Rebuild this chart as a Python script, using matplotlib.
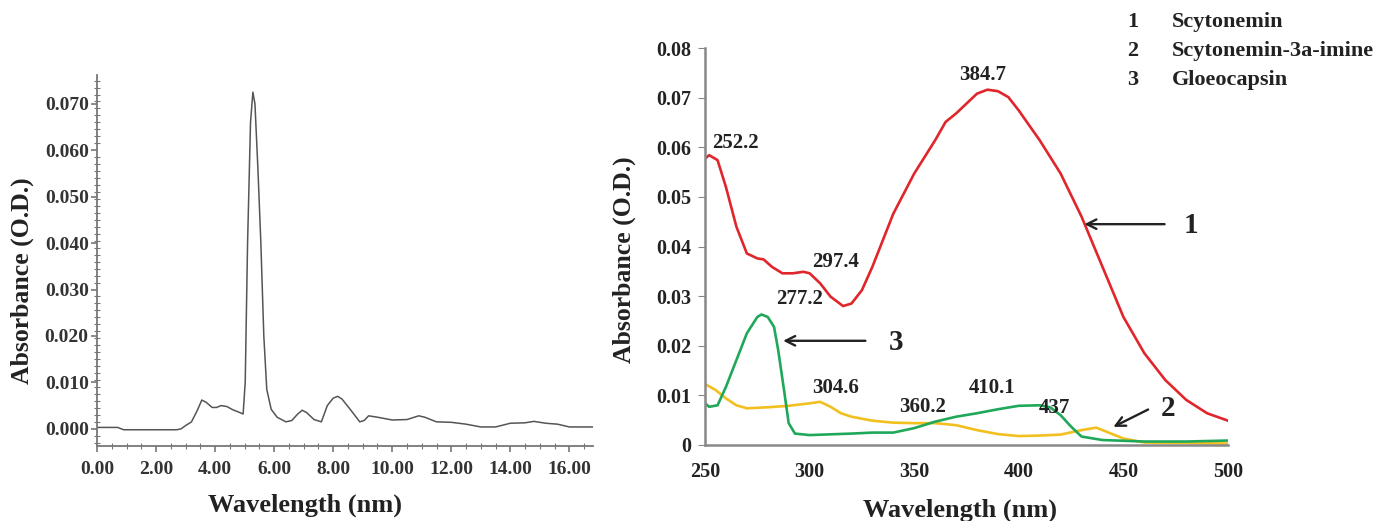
import matplotlib
matplotlib.use("Agg")
import matplotlib.pyplot as plt
from matplotlib.ticker import MultipleLocator, FuncFormatter

plt.rcParams['font.family'] = ['Liberation Serif', 'DejaVu Serif']
plt.rcParams['font.weight'] = 'bold'

# ---- Left panel: chromatogram ----
left_x = [0.0, 0.7, 0.9, 2.7, 2.85, 3.0, 3.2, 3.4, 3.55, 3.7, 3.9, 4.05, 4.2, 4.4, 4.6, 4.8, 4.95,
          5.02, 5.1, 5.2, 5.28, 5.35, 5.45, 5.55, 5.65, 5.75, 5.9, 6.1, 6.4, 6.6, 6.8, 6.95, 7.1,
          7.35, 7.6, 7.8, 8.0, 8.15, 8.3, 8.6, 8.9, 9.05, 9.2, 9.5, 10.0, 10.5, 10.9, 11.1, 11.5,
          12.0, 12.5, 13.0, 13.5, 14.0, 14.5, 14.8, 15.2, 15.6, 16.0, 16.8]
left_y = [0.0003, 0.0003, -0.0002, -0.0002, 0.0000, 0.0007, 0.0015, 0.0040, 0.0062, 0.0057, 0.0046,
          0.0046, 0.0050, 0.0048, 0.0041, 0.0036, 0.0032,
          0.0100, 0.0400, 0.0660, 0.0725, 0.0700, 0.0560, 0.0400, 0.0200, 0.0085, 0.0042, 0.0025,
          0.0015, 0.0018, 0.0032, 0.0040, 0.0035,
          0.0020, 0.0015, 0.0050, 0.0066, 0.0070, 0.0064, 0.0040, 0.0015, 0.0018, 0.0028, 0.0025,
          0.0019, 0.0020, 0.0028, 0.0025, 0.0015,
          0.0014, 0.0010, 0.0004, 0.0004, 0.0012, 0.0013, 0.0016, 0.0012, 0.0010, 0.0004, 0.0004]
left_xticks = [0, 2, 4, 6, 8, 10, 12, 14, 16]
left_yticks = [0.0, 0.01, 0.02, 0.03, 0.04, 0.05, 0.06, 0.07]

# ---- Right panel: absorption spectra ----
scy_x = [250, 252, 256, 260, 265, 270, 275, 278, 282, 287, 292, 297, 300, 305, 310, 316, 320, 325,
         330, 340, 350, 360, 365, 370, 375, 380, 385, 390, 395, 400, 410, 420, 430, 440, 450, 460,
         470, 480, 490, 500]
scy_y = [0.0577, 0.0584, 0.0574, 0.0520, 0.0440, 0.0386, 0.0376, 0.0374, 0.0359, 0.0346, 0.0346,
         0.0349, 0.0346, 0.0326, 0.0299, 0.0280, 0.0285, 0.0312,
         0.0359, 0.0466, 0.0547, 0.0614, 0.0651, 0.0668, 0.0688, 0.0708, 0.0716, 0.0713, 0.0701,
         0.0674, 0.0614, 0.0547, 0.0460, 0.0359, 0.0258, 0.0185, 0.0131, 0.0091, 0.0064, 0.0049]

glo_x = [250, 252, 256, 260, 265, 270, 275, 277, 280, 283, 285, 288, 290, 293, 300, 320, 330, 340,
         350, 360, 370, 380, 390, 400, 410, 415, 420, 425, 430, 440, 460, 480, 500]
glo_y = [0.0084, 0.0077, 0.0080, 0.0117, 0.0171, 0.0225, 0.0258, 0.0263, 0.0258, 0.0238, 0.0191,
         0.0104, 0.0044, 0.0023, 0.0020, 0.0023, 0.0025, 0.0025,
         0.0034, 0.0047, 0.0057, 0.0064, 0.0072, 0.0079, 0.0080, 0.0076, 0.0060, 0.0037, 0.0017,
         0.0010, 0.0007, 0.0007, 0.0009]

imi_x = [250, 255, 260, 265, 270, 280, 290, 300, 305, 310, 315, 320, 330, 340, 350, 360, 370, 380,
         390, 400, 410, 420, 430, 437, 440, 450, 460, 480, 500]
imi_y = [0.0123, 0.0111, 0.0094, 0.0080, 0.0074, 0.0076, 0.0079, 0.0084, 0.0087, 0.0077, 0.0064,
         0.0057, 0.0049, 0.0045, 0.0044, 0.0044, 0.0040, 0.0030,
         0.0022, 0.0018, 0.0019, 0.0021, 0.0030, 0.0035, 0.0030, 0.0013, 0.0005, 0.0004, 0.0003]

peak_labels = ["252.2", "384.7", "297.4", "277.2", "304.6", "360.2", "410.1", "437"]
peak_lx = [264.5, 382.5, 312.5, 295.0, 312.5, 354.0, 387.0, 417.0]
peak_ly = [0.0609, 0.0745, 0.0369, 0.0295, 0.0114, 0.0076, 0.0114, 0.0074]

legend_nums = ["1", "2", "3"]
legend_names = ["Scytonemin", "Scytonemin-3a-imine", "Gloeocapsin"]

right_xticks = [250, 300, 350, 400, 450, 500]
right_yticks = [0.0, 0.01, 0.02, 0.03, 0.04, 0.05, 0.06, 0.07, 0.08]

W, H = 1387, 521
fig = plt.figure(figsize=(W / 100, H / 100), dpi=100)

spine_col = '#777777'
txt_col = '#222222'

# Left axes
axL = fig.add_axes([97 / W, 1 - 446 / H, (593 - 97) / W, (446 - 75) / H])
axL.plot(left_x, left_y, color='#555555', lw=1.1)
axL.set_xlim(0, 16.8)
axL.set_ylim(-0.0037, 0.0762)
axL.set_xticks(left_xticks)
axL.set_yticks(left_yticks)
axL.xaxis.set_minor_locator(MultipleLocator(0.5))
axL.yaxis.set_minor_locator(MultipleLocator(0.0015))
axL.xaxis.set_major_formatter(FuncFormatter(lambda v, p: f"{v:.2f}"))
axL.yaxis.set_major_formatter(FuncFormatter(lambda v, p: f"{v:.3f}"))
for s in ['top', 'right']:
    axL.spines[s].set_visible(False)
for s in ['left', 'bottom']:
    axL.spines[s].set_color(spine_col)
    axL.spines[s].set_linewidth(1.3)
axL.tick_params(axis='both', which='major', direction='out', length=4, color=spine_col,
                labelsize=14, labelcolor='#333333', width=1.2)
axL.tick_params(axis='both', which='minor', direction='inout', length=4, color=spine_col, width=0.8)
axL.tick_params(axis='x', pad=7)
axL.tick_params(axis='y', pad=2)
for t in axL.get_xticklabels() + axL.get_yticklabels():
    t.set_fontweight('bold')
axL.set_xlabel("Wavelength (nm)", fontsize=19, fontweight='bold', color=txt_col)
axL.set_ylabel("Absorbance (O.D.)", fontsize=18.5, fontweight='bold', color=txt_col)
axL.xaxis.set_label_coords(0.42, -0.128)
axL.yaxis.set_label_coords(-0.128, 0.445)

# Right axes
axR = fig.add_axes([705 / W, 1 - 445 / H, (1228 - 705) / W, (445 - 48) / H])
axR.plot(scy_x, scy_y, color='#e0262b', lw=1.9)
axR.plot(imi_x, imi_y, color='#f2c01e', lw=1.9)
axR.plot(glo_x, glo_y, color='#20a85a', lw=1.9)
axR.set_xlim(250, 500)
axR.set_ylim(0, 0.08)
axR.set_xticks(right_xticks)
axR.set_yticks(right_yticks)
axR.yaxis.set_major_formatter(FuncFormatter(lambda v, p: "0" if abs(v) < 1e-9 else f"{v:.2f}"))
for s in ['top', 'right']:
    axR.spines[s].set_visible(False)
for s in ['left', 'bottom']:
    axR.spines[s].set_color('#888888')
    axR.spines[s].set_linewidth(1.8)
axR.tick_params(axis='y', direction='out', length=5, color='#888888', labelsize=14.5, pad=5)
axR.tick_params(axis='x', direction='out', length=0, labelsize=14.5, pad=12)
for t in axR.get_xticklabels() + axR.get_yticklabels():
    t.set_fontweight('bold')
    t.set_color(txt_col)
axR.set_xlabel("Wavelength (nm)", fontsize=19, fontweight='bold', color=txt_col)
axR.set_ylabel("Absorbance (O.D.)", fontsize=18.5, fontweight='bold', color=txt_col)
axR.xaxis.set_label_coords(0.488, -0.135)
axR.yaxis.set_label_coords(-0.132, 0.466)

for lab, lx, ly in zip(peak_labels, peak_lx, peak_ly):
    axR.text(lx, ly, lab, ha='center', va='center', fontsize=15, fontweight='bold', color=txt_col)

arrow_kw = dict(arrowstyle='->', color=txt_col, lw=1.7, mutation_scale=17)
axR.annotate("", xy=(430, 0.0445), xytext=(471, 0.0445), arrowprops=arrow_kw)
axR.text(482.5, 0.0443, "1", ha='center', va='center', fontsize=21, fontweight='bold', color=txt_col)
axR.annotate("", xy=(286, 0.0210), xytext=(328, 0.0210), arrowprops=arrow_kw)
axR.text(341.5, 0.0207, "3", ha='center', va='center', fontsize=21, fontweight='bold', color=txt_col)
axR.annotate("", xy=(444, 0.0034), xytext=(463, 0.0074), arrowprops=arrow_kw)
axR.text(471.5, 0.0073, "2", ha='center', va='center', fontsize=21, fontweight='bold', color=txt_col)

# Legend text
for i, (n, name) in enumerate(zip(legend_nums, legend_names)):
    yy = 1 - (22 + i * 29) / H
    fig.text(1133 / W, yy, n, ha='center', va='center', fontsize=16, fontweight='bold', color=txt_col)
    fig.text(1172 / W, yy, name, ha='left', va='center', fontsize=16, fontweight='bold', color=txt_col)

fig.savefig("out.png", dpi=100, facecolor='white')
